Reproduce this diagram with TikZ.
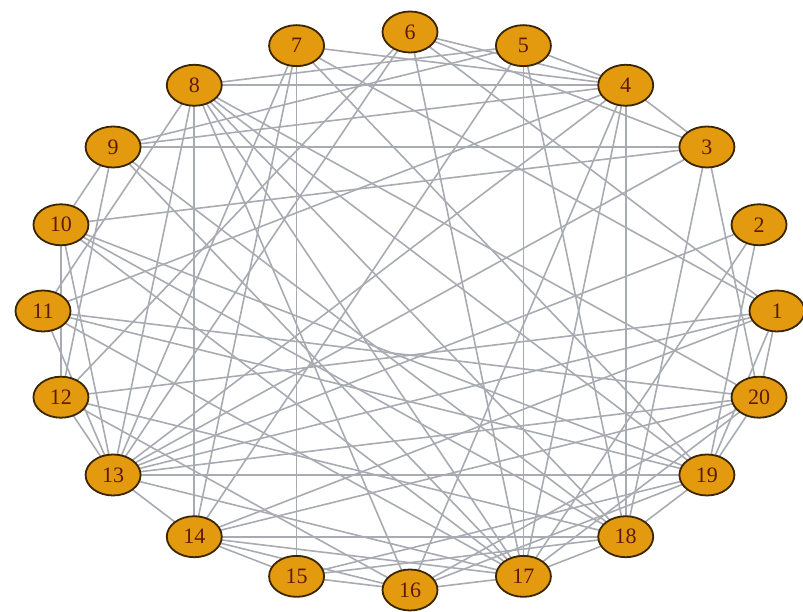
\documentclass[tikz,border=0pt]{standalone}
\usepackage{fontspec}
\setmainfont{Liberation Serif}
\usetikzlibrary{shapes.geometric}
\definecolor{vfill}{HTML}{E39A0E}
\definecolor{vline}{HTML}{3A2600}
\definecolor{vtext}{HTML}{5E1A08}
\definecolor{ecol}{HTML}{A9ABB3}
\pgfdeclarelayer{bg}
\pgfsetlayers{bg,main}
\tikzset{
  vtx/.style={ellipse, draw=vline, line width=1.8pt, fill=vfill, minimum width=55pt, minimum height=41pt, inner sep=0pt, text=vtext, font=\fontsize{22}{22}\selectfont},
  edge/.style={draw=ecol, line width=1.6pt}
}
\begin{document}
\begin{tikzpicture}[x=1pt,y=1pt]
\useasboundingbox (0,0) rectangle (803,612);
\foreach \i in {1,...,20} {
  \node[vtx] (n\i) at ({410+367*cos(18*(\i-1))},{301+279*sin(18*(\i-1))}) {\i};
}
\begin{pgfonlayer}{bg}
\foreach \a/\b in {1/6,1/7,1/12,1/13,1/14,1/19,1/20,
  2/13,2/17,2/19,
  3/4,3/6,3/9,3/10,3/13,3/18,3/20,
  4/5,4/6,4/8,4/13,4/16,4/17,4/18,4/11,
  5/8,5/9,5/14,5/17,5/18,
  6/12,6/13,6/17,
  7/4,7/13,7/14,7/15,7/19,
  8/11,8/13,8/14,8/16,8/17,8/18,8/19,8/20,
  9/10,9/12,9/17,9/18,9/4,
  10/12,10/13,10/17,10/18,10/19,
  11/13,11/17,11/19,11/20,
  12/13,12/16,12/18,
  13/14,13/17,13/19,13/20,
  14/15,14/16,14/17,14/18,14/20,
  15/16,15/18,15/19,
  16/17,16/19,16/20,
  17/18,17/20,
  18/19,
  19/20} {
  \draw[edge] (n\a.center) -- (n\b.center);
}
\end{pgfonlayer}
\end{tikzpicture}
\end{document}
